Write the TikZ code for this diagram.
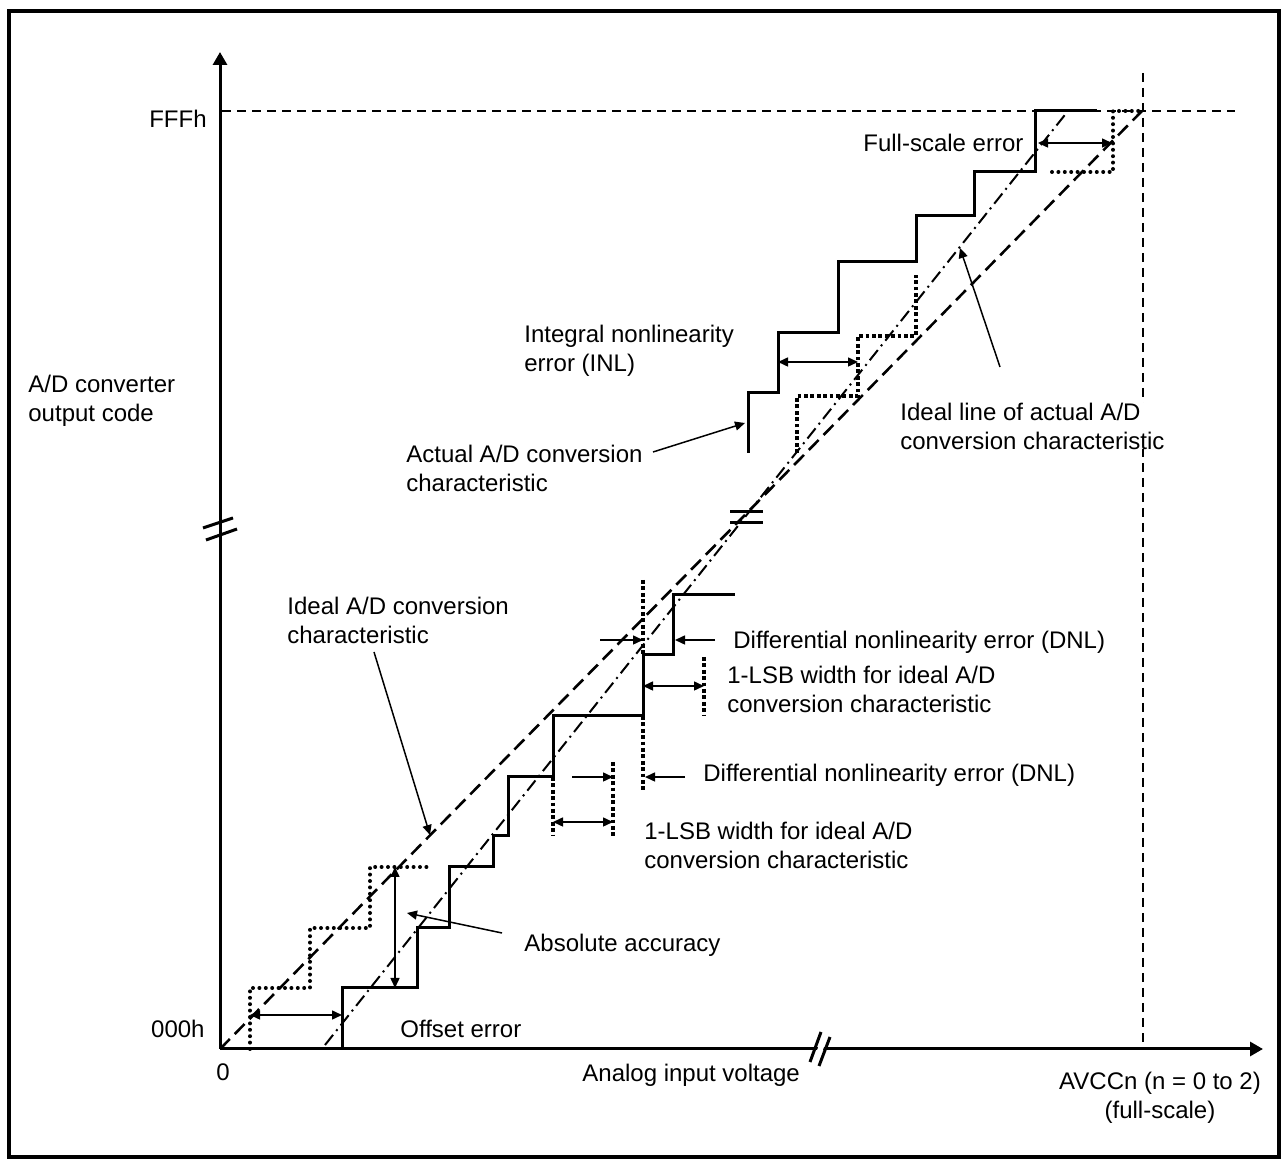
\documentclass[tikz,border=0pt]{standalone}
\usepackage{fontspec}
\setmainfont{Liberation Sans}
\usetikzlibrary{arrows.meta}
\begin{document}
\begin{tikzpicture}
[
    x=0.5pt, y=-0.5pt,
    font=\fontsize{12}{14.2}\selectfont,
    txt/.style={inner sep=0pt, anchor=north west, align=left},
    axis/.style={line width=1.5pt, -{Triangle[length=6.5pt,width=7pt]}},
    stair/.style={line width=1.5pt},
    rounddots/.style={line width=2pt, line cap=round, dash pattern=on 0pt off 3.2pt},
    squaredots/.style={line width=2.3pt, dash pattern=on 1.9pt off 1.3pt},
    idealline/.style={line width=1.3pt, dash pattern=on 7pt off 3.5pt},
    actline/.style={line width=1pt, dash pattern=on 6.5pt off 2.5pt on 1pt off 2.5pt},
    guide/.style={line width=1.1pt, dash pattern=on 4.5pt off 3pt},
    dim/.style={line width=0.75pt, {Triangle[length=5pt,width=4.5pt]}-{Triangle[length=5pt,width=4.5pt]}},
    ptr/.style={line width=0.75pt, -{Triangle[length=5pt,width=4.5pt]}},
    brk/.style={line width=1.5pt},
]
\useasboundingbox (0,0) rectangle (1282,1160);
\draw[line width=1.6pt] (9,11) rectangle (1279,1157);

% axes
\coordinate (o) at (220,1049);
\coordinate (ytop) at (220,52);
\coordinate (xend) at (1263,1049);
\draw[axis] (o) -- (ytop);
\draw[axis] (o) -- (xend);
\fill[white] (812,1064) -- (823,1034) -- (828,1036) -- (817,1066) -- cycle;
\draw[brk] (203,528) -- (233,518) (206,540) -- (237,529);
\draw[brk] (810,1062) -- (821,1032) (819,1066) -- (830,1037);

% full-scale guides
\draw[guide] (222,111) -- (1235,111);
\draw[guide] (1143,73) -- (1143,1049);

% ideal lines
\draw[idealline] (o) -- (1142,111);
\draw[actline] (325,1045) -- (1068,111);
\draw[brk] (730,512) -- (763,512) (730,523) -- (763,523);

% actual characteristic
\draw[stair] (342,1049) |- (417,988) |- (449,928) |- (493,867) |- (508,836)
    |- (553,777) |- (643,716) |- (673,655) |- (735,595);
\draw[stair] (748,453) |- (778,393) |- (838,333) |- (916,262) |- (974,216)
    |- (1035,172) |- (1097,111);

% ideal steps
\draw[rounddots] (250,1049) |- (310,988) |- (370,928) |- (428,867);
\draw[rounddots] (1052,172) -| (1113,111) -- (1142,111);
\draw[squaredots] (797,453) |- (858,396) |- (916,336) -- (916,275);
\draw[squaredots] (553,777) -- (553,835) (613,762) -- (613,837)
    (643,716) -- (643,790) (643,580) -- (643,655) (704,657) -- (704,715);

% dimension arrows
\draw[dim] (250,1015) -- (342,1015);
\draw[dim] (395,867) -- (395,988);
\draw[dim] (553,822) -- (613,822);
\draw[dim] (643,686) -- (704,686);
\draw[dim] (778,362) -- (858,362);
\draw[dim] (1038,143) -- (1112,143);
\draw[ptr] (572,777) -- (613,777);
\draw[ptr] (685,777) -- (645,777);
\draw[ptr] (600,640) -- (643,640);
\draw[ptr] (715,640) -- (675,640);

% labels
\node[txt, anchor=north east] (fffh) at (207,110) {FFFh};
\node[txt, anchor=north east] (zeroh) at (205,1020) {000h};
\node[txt] (zero) at (216,1063) {0};
\node[txt] (ylabel) at (28,375) {A/D converter\\output code};
\node[txt] (xlabel) at (582,1064) {Analog input voltage};
\node[txt, anchor=north, align=center] (avcc) at (1160,1072) {AVCCn (n = 0 to 2)\\(full-scale)};
\node[txt] (fserr) at (863,134) {Full-scale error};
\node[txt] (inl) at (524,325) {Integral nonlinearity\\error (INL)};
\node[txt] (actual) at (406,445) {Actual A/D conversion\\characteristic};
\node[txt, fill=white] (idealact) at (900,403) {Ideal line of actual A/D\\conversion characteristic};
\node[txt] (ideal) at (287,597) {Ideal A/D conversion\\characteristic};
\node[txt] (dnla) at (733,631) {Differential nonlinearity error (DNL)};
\node[txt] (lsba) at (727,666) {1-LSB width for ideal A/D\\conversion characteristic};
\node[txt] (dnlb) at (703,764) {Differential nonlinearity error (DNL)};
\node[txt] (lsbb) at (644,822) {1-LSB width for ideal A/D\\conversion characteristic};
\node[txt] (absacc) at (524,934) {Absolute accuracy};
\node[txt] (offset) at (400,1020) {Offset error};

% label pointers
\coordinate (actual-from) at (653,452);
\coordinate (actual-to) at (745,423);
\coordinate (idealact-from) at (1000,367);
\coordinate (idealact-to) at (960,248);
\coordinate (ideal-from) at (374,652);
\coordinate (ideal-to) at (430,835);
\coordinate (absacc-from) at (502,933);
\coordinate (absacc-to) at (407,913);
\draw[ptr] (actual-from) -- (actual-to);
\draw[ptr] (idealact-from) -- (idealact-to);
\draw[ptr] (ideal-from) -- (ideal-to);
\draw[ptr] (absacc-from) -- (absacc-to);
\end{tikzpicture}
\end{document}
